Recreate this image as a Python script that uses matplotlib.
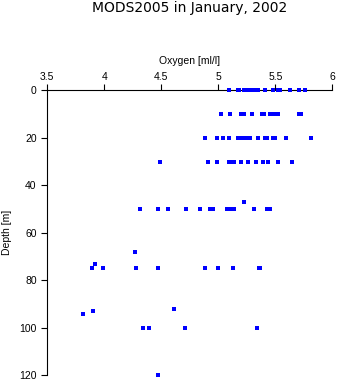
import matplotlib
matplotlib.use("Agg")
import matplotlib.pyplot as plt
import numpy as np

plt.rcParams["font.family"] = ["Liberation Sans", "DejaVu Sans"]

# oxygen readings grouped by sampling depth
depth_levels = [0, 10, 20, 30, 47, 50, 68, 73, 75, 92, 93, 94, 100, 120]
oxygen_by_level = [
    [5.09, 5.17, 5.18, 5.23, 5.26, 5.30, 5.31, 5.32, 5.35, 5.41, 5.48, 5.52, 5.54, 5.63, 5.71, 5.76],
    [5.02, 5.10, 5.20, 5.23, 5.30, 5.38, 5.40, 5.45, 5.48, 5.50, 5.52, 5.71, 5.73],
    [4.88, 4.99, 5.04, 5.09, 5.17, 5.18, 5.22, 5.24, 5.28, 5.35, 5.41, 5.43, 5.48, 5.50, 5.59, 5.81],
    [4.49, 4.91, 4.99, 5.09, 5.13, 5.14, 5.20, 5.26, 5.33, 5.39, 5.44, 5.52, 5.65],
    [5.23],
    [4.31, 4.47, 4.56, 4.72, 4.84, 4.93, 4.95, 5.08, 5.10, 5.14, 5.31, 5.43, 5.45],
    [4.27],
    [3.92],
    [3.89, 3.99, 4.28, 4.47, 4.88, 5.00, 5.13, 5.36, 5.37],
    [4.61],
    [3.90],
    [3.81],
    [4.34, 4.39, 4.71, 5.34],
    [4.47],
]

depth = np.concatenate([[d] * len(o) for d, o in zip(depth_levels, oxygen_by_level)])
oxygen = np.concatenate(oxygen_by_level)

fig = plt.figure(figsize=(3.38, 3.84), dpi=100)
ax = fig.add_axes([0.140, 0.0227, 0.843, 0.742])

# surface and bottom samples sit on the axis limits, so don't clip them
ax.plot(oxygen, depth, linestyle="", marker="s", markersize=2.3,
        color="#0000ff", markeredgewidth=0, clip_on=False, zorder=3)

ax.set_xlim(3.5, 6)
ax.set_ylim(120, 0)
ax.set_xticks([3.5, 4, 4.5, 5, 5.5, 6])
ax.set_xticklabels(["3.5", "4", "4.5", "5", "5.5", "6"])
ax.set_yticks([0, 20, 40, 60, 80, 100, 120])

ax.xaxis.tick_top()
ax.xaxis.set_label_position("top")
ax.spines["right"].set_visible(False)
ax.spines["bottom"].set_visible(False)
for s in ("left", "top"):
    ax.spines[s].set_linewidth(0.8)
ax.tick_params(axis="both", direction="out", length=4.2, width=0.8,
               labelsize=7.5)
ax.tick_params(axis="x", pad=1.8)
ax.tick_params(axis="y", pad=3.5)

ax.set_xlabel("Oxygen [ml/l]", fontsize=7.5, labelpad=6)
ax.set_ylabel("Depth [m]", fontsize=7.5, labelpad=5)

fig.text(190 / 338, 1 - 12 / 384, "MODS2005 in January, 2002",
         ha="center", va="baseline", fontsize=10, family="DejaVu Sans")

fig.savefig("out.png", dpi=100)
